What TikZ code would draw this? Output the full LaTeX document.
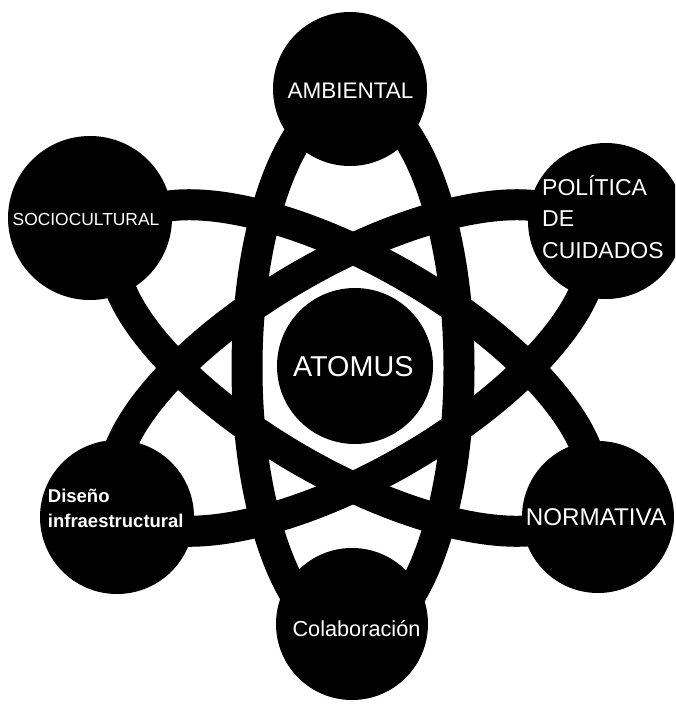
\documentclass[tikz,border=0pt]{standalone}
\usepackage{fontspec}
\setmainfont{Liberation Sans}
\begin{document}
\begin{tikzpicture}[x=1pt,y=-1pt,
  orbit/.style={draw=black,line width=31pt},
  ball/.style={circle,fill=black,draw=none,inner sep=0pt},
  lbl/.style={text=white,inner sep=0pt}]
\useasboundingbox (0,0) rectangle (675,704);
\clip (0,0) rectangle (675,704);
\coordinate (c) at (353,368);
% orbits
\draw[orbit] (c) ellipse [x radius=106, y radius=270];
\draw[orbit,rotate around={-30:(c)}] (c) ellipse [x radius=270, y radius=106];
\draw[orbit,rotate around={30:(c)}] (c) ellipse [x radius=270, y radius=106];
% circles
\node[ball,minimum size=154pt] (amb) at (350,89) {};
\node[ball,minimum size=164pt] (soc) at (90,218) {};
\node[ball,minimum size=156pt] (pol) at (606,221) {};
\node[ball,minimum size=156pt] (atom) at (355,366) {};
\node[ball,minimum size=154pt] (dis) at (117,517) {};
\node[ball,minimum size=152pt] (nor) at (598,517) {};
\node[ball,minimum size=152pt] (col) at (352,624) {};
% labels
\node[lbl,anchor=base] (ambT) at (350.5,98.3) {\fontsize{22.5}{27}\selectfont AMBIENTAL};
\node[lbl,anchor=base] (socT) at (86,225) {\fontsize{17.4}{21}\selectfont SOCIOCULTURAL};
\node[lbl,anchor=base west] (polT1) at (542,195) {\fontsize{23}{28}\selectfont POLÍTICA};
\node[lbl,anchor=base west] (polT2) at (542,226.7) {\fontsize{23}{28}\selectfont DE};
\node[lbl,anchor=base west] (polT3) at (542,258) {\fontsize{23}{28}\selectfont CUIDADOS};
\node[lbl,anchor=base] (atomT) at (353.3,376) {\fontsize{28.75}{34}\selectfont ATOMUS};
\node[lbl,anchor=base] (norT) at (596,525) {\fontsize{24.2}{29}\selectfont NORMATIVA};
\node[lbl,anchor=base] (colT) at (356.5,636) {\fontsize{21.7}{26}\selectfont Colaboración};
\node[lbl,anchor=base west] (disT1) at (47.7,502.7) {\fontsize{18.5}{22}\selectfont\bfseries Diseño};
\node[lbl,anchor=base west] (disT2) at (47.7,527.3) {\fontsize{18.5}{22}\selectfont\bfseries infraestructural};
\end{tikzpicture}
\end{document}
